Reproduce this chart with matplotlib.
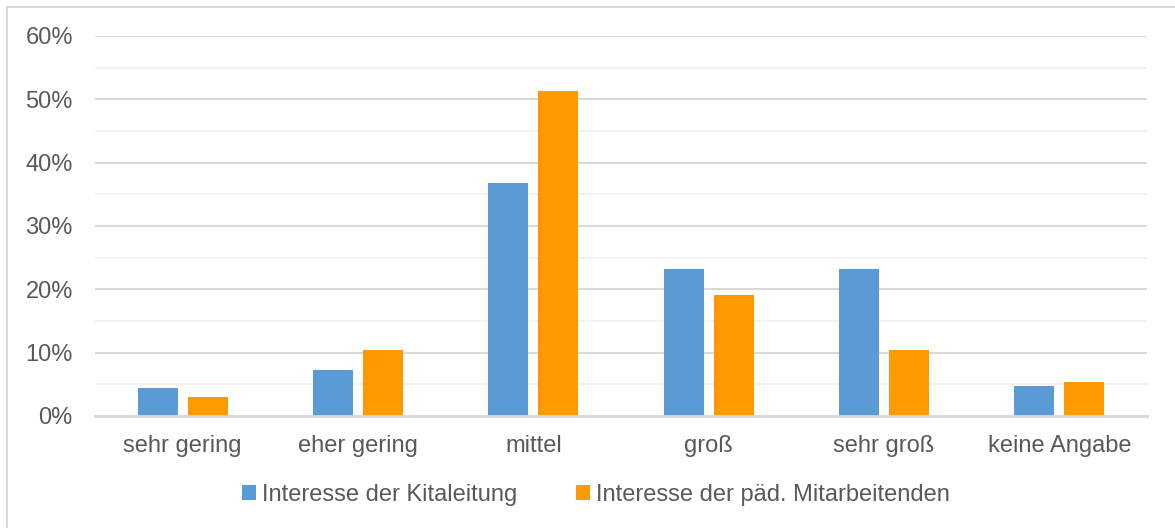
import numpy as np
import matplotlib
matplotlib.use('Agg')
import matplotlib.pyplot as plt
from matplotlib.patches import Rectangle

# data
categories = ['sehr gering', 'eher gering', 'mittel', 'groß', 'sehr groß', 'keine Angabe']
kitaleitung = [4.5, 7.2, 36.8, 23.2, 23.2, 4.7]
mitarbeitende = [3.0, 10.5, 51.3, 19.1, 10.5, 5.3]
series_names = ['Interesse der Kitaleitung', 'Interesse der päd. Mitarbeitenden']
yticks = [0, 10, 20, 30, 40, 50, 60]

plt.rcParams['font.family'] = ['Liberation Sans', 'DejaVu Sans']
text_col = '#595959'
fs = 17

fig = plt.figure(figsize=(11.75, 5.28), dpi=100)
ax = fig.add_axes([95 / 1175, 1 - 416 / 528, (1147 - 95) / 1175, (416 - 36) / 528])

x = np.arange(len(categories))
w = 0.228
off = 0.1426
ax.bar(x - off, kitaleitung, w, color='#5B9BD5', label=series_names[0], zorder=3)
ax.bar(x + off, mitarbeitende, w, color='#FF9900', label=series_names[1], zorder=3)

ax.set_xlim(-0.5, len(categories) - 0.5)
ax.set_ylim(0, 60)
ax.set_yticks(yticks)
ax.set_yticklabels([f'{t}%' for t in yticks])
ax.set_yticks(np.arange(5, 60, 10), minor=True)
ax.set_xticks(x)
ax.set_xticklabels(categories)

ax.grid(axis='y', which='major', color='#d9d9d9', linewidth=1.5, zorder=0)
ax.grid(axis='y', which='minor', color='#f2f2f2', linewidth=1.5, zorder=0)
ax.tick_params(axis='both', which='both', length=0, labelsize=fs, labelcolor=text_col)
ax.tick_params(axis='y', pad=16)
ax.tick_params(axis='x', pad=14)
for s in ['top', 'right', 'left']:
    ax.spines[s].set_visible(False)
ax.spines['bottom'].set_color('#d9d9d9')
ax.spines['bottom'].set_linewidth(2)
ax.spines['bottom'].set_zorder(4)

leg = fig.legend(loc='center', bbox_to_anchor=(0.507, 1 - 495 / 528), ncol=2, frameon=False,
                 fontsize=fs, handlelength=0.6, handleheight=0.6, handletextpad=0.25,
                 columnspacing=2.5, borderaxespad=0)
for t in leg.get_texts():
    t.set_color(text_col)

# chart area border
fig.patches.append(Rectangle((7 / 1175, -0.1), 1.2, 1 - 7 / 528 + 0.1, transform=fig.transFigure,
                             fill=False, edgecolor='#d9d9d9', linewidth=1.5))

fig.savefig('out.png', dpi=100, facecolor='white')
